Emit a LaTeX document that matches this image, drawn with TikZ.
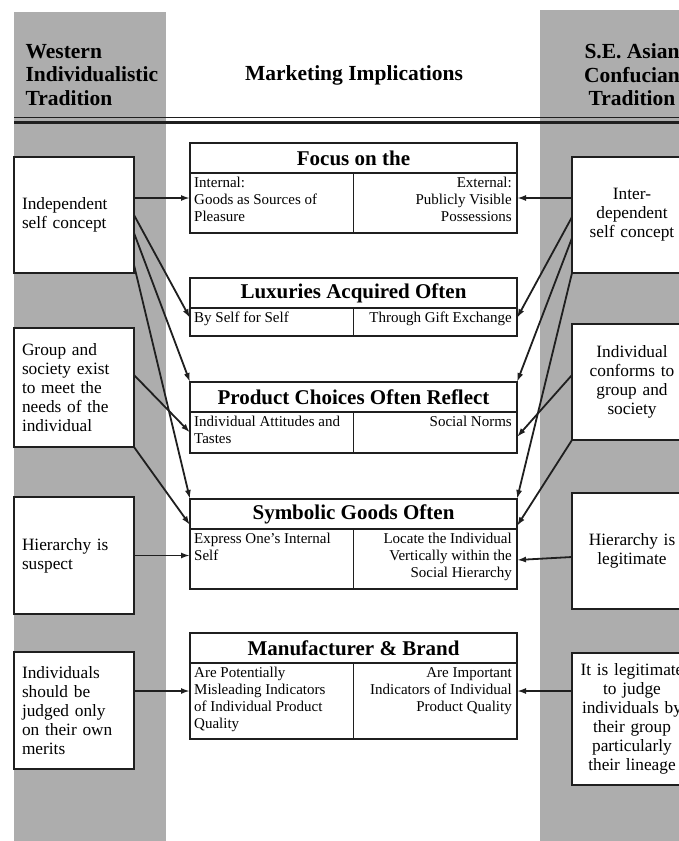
\documentclass[tikz,border=0pt]{standalone}
\usepackage{fontspec}
\setmainfont{Liberation Serif}
\usepackage{tikz}
\usetikzlibrary{positioning}
\usetikzlibrary{arrows.meta}

\definecolor{bandgray}{gray}{0.68}
\definecolor{linegray}{gray}{0.12}

\begin{document}
\begin{tikzpicture}[x=1pt, y=-1pt,
  sidebox/.style={draw=linegray, line width=1.4pt, fill=white, outer sep=0pt,
    minimum width=120pt, text width=104pt, inner xsep=8pt,
    font=\fontsize{17.3}{19}\selectfont},
  eastbox/.style={sidebox, text width=110pt, inner xsep=5pt, align=center},
  titlebox/.style={draw=linegray, line width=1.4pt, fill=white, outer sep=0pt,
    inner sep=0pt, minimum width=327pt, minimum height=30pt,
    font=\bfseries\fontsize{21}{24}\selectfont},
  subbox/.style={draw=linegray, line width=1.4pt, fill=white, outer sep=0pt,
    inner sep=0pt, minimum width=163.5pt},
  subtext/.style={inner sep=0pt, font=\fontsize{15}{17}\selectfont},
  headtext/.style={font=\bfseries\fontsize{21.5}{23.5}\selectfont},
  link/.style={-{Latex[length=9pt,width=6pt]}, line width=1.8pt, draw=linegray}]
  \useasboundingbox (0,0) rectangle (679,841);
  \clip (0,0) rectangle (679,841);
  % bands and rule %
  \fill[bandgray] (14,12) rectangle (166,841);
  \fill[bandgray] (540,10) rectangle (700,841);
  \draw[line width=1pt, linegray] (14,117) -- (679,117);
  \draw[line width=3pt, linegray] (14,122) -- (679,122);
  % headers %
  \node[headtext, anchor=west, align=left] (westhead) at (22,75) {Western\\Individualistic\\Tradition};
  \node[headtext] (midhead) at (354,75) {Marketing Implications};
  \node[headtext, align=center] (easthead) at (632,75) {S.E. Asian\\Confucian\\Tradition};
  % middle boxes %
  \node[titlebox] (focus) at (353.5,158) {Focus on the};
  \node[subbox, minimum height=60pt, anchor=north west] (focusin) at (focus.south west) {};
  \node[subbox, minimum height=60pt, anchor=north east] (focusex) at (focus.south east) {};
  \node[subtext, anchor=north west, align=left] (focusintxt) at ([xshift=4pt,yshift=-4pt]focusin.north west) {Internal:\\Goods as Sources of\\Pleasure};
  \node[subtext, anchor=north east, align=right] (focusextxt) at ([xshift=-5pt,yshift=-4pt]focusex.north east) {External:\\Publicly Visible\\Possessions};

  \node[titlebox] (lux) at (353.5,293) {Luxuries Acquired Often};
  \node[subbox, minimum height=28pt, anchor=north west] (luxin) at (lux.south west) {};
  \node[subbox, minimum height=28pt, anchor=north east] (luxex) at (lux.south east) {};
  \node[subtext, anchor=north west, align=left] (luxintxt) at ([xshift=4pt,yshift=-4pt]luxin.north west) {By Self for Self};
  \node[subtext, anchor=north east, align=right] (luxextxt) at ([xshift=-5pt,yshift=-4pt]luxex.north east) {Through Gift Exchange};

  \node[titlebox] (choice) at (353.5,397) {Product Choices Often Reflect};
  \node[subbox, minimum height=41pt, anchor=north west] (choicein) at (choice.south west) {};
  \node[subbox, minimum height=41pt, anchor=north east] (choiceex) at (choice.south east) {};
  \node[subtext, anchor=north west, align=left] (choiceintxt) at ([xshift=4pt,yshift=-4pt]choicein.north west) {Individual Attitudes and\\Tastes};
  \node[subtext, anchor=north east, align=right] (choiceextxt) at ([xshift=-5pt,yshift=-4pt]choiceex.north east) {Social Norms};

  \node[titlebox] (symbol) at (353.5,514) {Symbolic Goods Often};
  \node[subbox, minimum height=60pt, anchor=north west] (symbolin) at (symbol.south west) {};
  \node[subbox, minimum height=60pt, anchor=north east] (symbolex) at (symbol.south east) {};
  \node[subtext, anchor=north west, align=left] (symbolintxt) at ([xshift=4pt,yshift=-4pt]symbolin.north west) {Express One's Internal\\Self};
  \node[subtext, anchor=north east, align=right] (symbolextxt) at ([xshift=-5pt,yshift=-4pt]symbolex.north east) {Locate the Individual\\Vertically within the\\Social Hierarchy};

  \node[titlebox] (brand) at (353.5,648) {Manufacturer \& Brand};
  \node[subbox, minimum height=76pt, anchor=north west] (brandin) at (brand.south west) {};
  \node[subbox, minimum height=76pt, anchor=north east] (brandex) at (brand.south east) {};
  \node[subtext, anchor=north west, align=left] (brandintxt) at ([xshift=4pt,yshift=-4pt]brandin.north west) {Are Potentially\\Misleading Indicators\\of Individual Product\\Quality};
  \node[subtext, anchor=north east, align=right] (brandextxt) at ([xshift=-5pt,yshift=-4pt]brandex.north east) {Are Important\\Indicators of Individual\\Product Quality};
  % heavier rule under each title %
  \foreach \b in {focus,lux,choice,symbol,brand}
    \draw[line width=2.4pt, linegray] (\b.south west) -- (\b.south east);
  % western boxes %
  \node[sidebox, align=left, minimum height=116pt] (indep) at (74,215) {Independent\\self concept};
  \node[sidebox, align=left, minimum height=119pt] (group) at (74,387.5) {Group and\\society exist\\to meet the\\needs of the\\individual};
  \node[sidebox, align=left, minimum height=117pt] (suspect) at (74,555.5) {Hierarchy is\\suspect};
  \node[sidebox, align=left, minimum height=117pt] (merits) at (74,710.5) {Individuals\\should be\\judged only\\on their own\\merits};
  % confucian boxes %
  \node[eastbox, minimum height=116pt] (interdep) at (632,215) {Inter-\\dependent\\self concept};
  \node[eastbox, minimum height=116pt] (conforms) at (632,382) {Individual\\conforms to\\group and\\society};
  \node[eastbox, minimum height=116pt] (legit) at (632,551) {Hierarchy is\\legitimate};
  \node[eastbox, minimum height=132pt] (lineage) at (632,719) {It is legitimate\\to judge\\individuals by\\their group\\particularly\\their lineage};
  % edges %
  \draw[link] ([yshift=17pt]indep.east) -- ([yshift=5pt]focusin.west);
  \draw[link] (indep.east) -- ([yshift=4pt]luxin.west);
  \draw[link] ([yshift=-18pt]indep.east) -- (choice.north west);
  \draw[link] ([yshift=-50pt]indep.east) -- (symbol.north west);
  \draw[link] ([yshift=12.5pt]group.east) -- (choicein.west);
  \draw[link] (group.south east) -- ([yshift=4pt]symbol.south west);
  \draw[link] (suspect.east) -- (suspect.east -| symbolin.west);
  \draw[link] ([yshift=19.5pt]merits.east) -- ([yshift=10pt]brandin.west);

  \draw[link] ([yshift=17pt]interdep.west) -- ([yshift=5pt]focusex.east);
  \draw[link] ([yshift=-2pt]interdep.west) -- ([yshift=4pt]luxex.east);
  \draw[link] ([yshift=-23pt]interdep.west) -- (choice.north east);
  \draw[link] (interdep.south west) -- (symbol.north east);
  \draw[link] ([yshift=7pt]conforms.west) -- ([yshift=-4.5pt]choiceex.east);
  \draw[link] (conforms.south west) -- ([yshift=3pt]symbol.south east);
  \draw[link] ([yshift=-6pt]legit.west) -- ([yshift=-1pt]symbolex.east);
  \draw[link] ([yshift=28pt]lineage.west) -- ([yshift=10pt]brandex.east);
\end{tikzpicture}
\end{document}
